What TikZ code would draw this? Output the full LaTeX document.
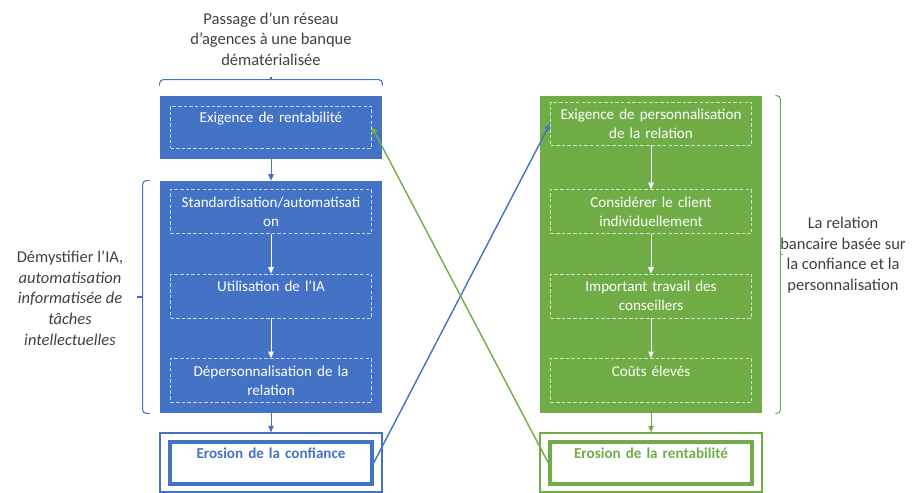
\documentclass[tikz,border=0pt]{standalone}
\usepackage{fontspec}
\setmainfont{Carlito}
\usepackage{xcolor}
\usepackage{tikz}
\usetikzlibrary{arrows.meta}
\definecolor{bankblue}{HTML}{4472C4}
\definecolor{bankgreen}{HTML}{70AD47}
\definecolor{labelgray}{HTML}{404040}

\begin{document}
\begin{tikzpicture}[x=0.02cm, y=-0.02cm,
  panel/.style={minimum width=4.44cm, inner sep=0pt},
  stepbox/.style={draw, dash pattern=on 2pt off 1.2pt, line width=0.4pt, minimum width=4.02cm, minimum height=0.88cm, text width=3.95cm, align=center, inner sep=1pt, text=white, font=\fontsize{8.6}{11}\selectfont},
  erosion/.style={draw, fill=white, minimum width=4.04cm, minimum height=0.84cm, text width=3.95cm, align=center, inner sep=1pt, line width=1.9pt, font=\fontsize{8.6}{11}\selectfont\bfseries},
  lab/.style={align=center, text=labelgray, font=\fontsize{9.4}{11.8}\selectfont},
  arr/.style={-{Triangle[length=1.3mm, width=1.1mm]}, line width=0.5pt},
  brc/.style={line width=0.6pt, rounded corners=2pt}]
\useasboundingbox (0,0) rectangle (912,493);
% blue column
\node[panel, fill=bankblue, minimum height=1.26cm] (rentab) at (271,127.5) {};
\node[stepbox, draw=white!70!bankblue, minimum height=0.84cm] (rentabIn) at (271,127) {Exigence de rentabilité\\\mbox{}};
\node[panel, fill=bankblue, minimum height=4.64cm] (auto) at (271,297) {};
\node[stepbox, draw=white!70!bankblue] (std) at (271,211.5) {Standardisation/automatisati\\on};
\node[stepbox, draw=white!70!bankblue] (ia) at (271,296) {Utilisation de l’IA\\\mbox{}};
\node[stepbox, draw=white!70!bankblue] (deperso) at (271,380.5) {Dépersonnalisation de la\\relation};
\node[panel, draw=bankblue, line width=0.8pt, minimum height=1.18cm] (confOut) at (271,462.5) {};
\node[erosion, draw=bankblue, text=bankblue] (confIn) at (271,463) {Erosion de la confiance\\\mbox{}};
\draw[arr, bankblue] (rentab) -- (auto);
\draw[arr, white] (std) -- (ia);
\draw[arr, white] (ia) -- (deperso);
\draw[arr, bankblue] (auto) -- (confOut);
% green column
\node[panel, fill=bankgreen, minimum height=6.34cm] (perso) at (651,254.5) {};
\node[stepbox, draw=white!70!bankgreen, minimum height=0.86cm] (persoIn) at (651,123.5) {Exigence de personnalisation\\de la relation};
\node[stepbox, draw=white!70!bankgreen] (client) at (651,211.5) {Considérer le client\\individuellement};
\node[stepbox, draw=white!70!bankgreen] (travail) at (651,296) {Important travail des\\conseillers};
\node[stepbox, draw=white!70!bankgreen] (couts) at (651,380.5) {Coûts élevés\\\mbox{}};
\node[panel, draw=bankgreen, line width=0.8pt, minimum height=1.18cm] (rentOut) at (651,462.5) {};
\node[erosion, draw=bankgreen, text=bankgreen] (rentIn) at (651,463) {Erosion de la rentabilité\\\mbox{}};
\draw[arr, white] (persoIn) -- (client);
\draw[arr, white] (client) -- (travail);
\draw[arr, white] (travail) -- (couts);
\draw[arr, bankgreen] (perso) -- (rentOut);
% crossing links
\draw[arr, bankblue, line width=0.8pt] (confIn.east) -- (persoIn.west);
\draw[arr, bankgreen, line width=0.8pt] (rentIn.west) -- (rentabIn.east);
% braces and labels
\draw[brc, bankblue] ([yshift=0.2cm]rentab.north west) -- ([yshift=0.32cm]rentab.north west) -- ([yshift=0.32cm]rentab.north east) -- ([yshift=0.2cm]rentab.north east);
\draw[brc, bankblue] ([yshift=0.32cm]rentab.north) -- ([yshift=0.38cm]rentab.north);
\draw[brc, bankblue] ([xshift=-0.2cm]auto.north west) -- ([xshift=-0.34cm]auto.north west) -- ([xshift=-0.34cm]auto.south west) -- ([xshift=-0.2cm]auto.south west);
\draw[brc, bankblue] ([xshift=-0.34cm]auto.west) -- ([xshift=-0.46cm]auto.west);
\draw[brc, bankgreen] ([xshift=0.26cm]perso.north east) -- ([xshift=0.36cm]perso.north east) -- ([xshift=0.36cm]perso.south east) -- ([xshift=0.26cm]perso.south east);
\draw[brc, bankgreen] ([xshift=0.36cm]perso.east) -- ([xshift=0.42cm]perso.east);
\node[lab] (passage) at (271,39) {Passage d’un réseau\\d’agences à une banque\\dématérialisée};
\node[lab] (demyst) at (70,298) {Démystifier l’IA,\\\textit{automatisation}\\\textit{informatisée de}\\\textit{tâches}\\\textit{intellectuelles}};
\node[lab] (relation) at (843,255) {La relation\\bancaire basée sur\\la confiance et la\\personnalisation};
\end{tikzpicture}
\end{document}
